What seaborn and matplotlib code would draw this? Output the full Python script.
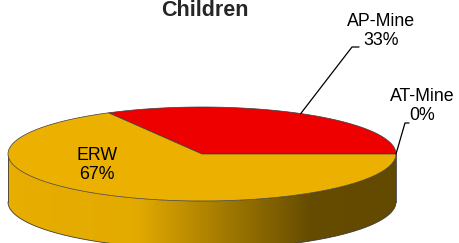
import numpy as np
import seaborn as sns
import matplotlib
matplotlib.use("Agg")
import matplotlib.pyplot as plt
from matplotlib.patches import Polygon
from matplotlib.colors import LinearSegmentedColormap, to_rgb

# -----------------------------
# data
# -----------------------------
categories = ["AP-Mine", "ERW", "AT-Mine"]
shares = [33, 67, 0]
slice_colors = ["#EE0000", "#EBB000", "#3366CC"]
title = "Children"

# label layout (pixel coords): text centre, elbow of leader line
label_pos = {"AP-Mine": (381, 31), "ERW": (97, 165), "AT-Mine": (422, 106)}
elbow_pos = {"AP-Mine": [(352, 47), (359, 47)], "AT-Mine": [(405, 123), (409, 123)]}

sns.set_theme(style="white")
plt.rcParams["font.family"] = ["Liberation Sans", "DejaVu Sans"]

fig = plt.figure(figsize=(4.59, 2.43), dpi=100)
ax = fig.add_axes([0, 0, 1, 1])
ax.set_xlim(0, 459)
ax.set_ylim(243, 0)
ax.axis("off")

# pie geometry
cx, cy, rx, ry, depth = 202, 154, 194, 47, 48
edge = "#3c3c3c"


def arc(a0, a1, dy=0, n=200):
    t = np.radians(np.linspace(a0, a1, n))
    return cx + rx * np.cos(t), cy + dy - ry * np.sin(t)


total = sum(shares)
bounds = np.concatenate([[0], np.cumsum(shares)]) / total * 360

# -----------------------------
# side wall (front half only)
# -----------------------------
for i, c in enumerate(slice_colors):
    lo, hi = max(bounds[i], 180), min(bounds[i + 1], 360)
    if hi <= lo:
        continue
    x1, y1 = arc(lo, hi)
    x2, y2 = arc(lo, hi, depth)
    pts = np.column_stack([np.concatenate([x1, x2[::-1]]), np.concatenate([y1, y2[::-1]])])
    poly = Polygon(pts, closed=True, facecolor="none", edgecolor="none")
    ax.add_patch(poly)
    base = np.array(to_rgb(c))
    cmap = LinearSegmentedColormap.from_list(
        "side", [(0, base * 0.985), (0.33, base * 0.965), (0.78, base * 0.43), (1, base * 0.42)]
    )
    grad = np.linspace(0, 1, 400).reshape(1, -1)
    im = ax.imshow(grad, cmap=cmap, aspect="auto",
                   extent=[cx - rx, cx + rx, cy + ry + depth + 2, cy - 2], zorder=1)
    im.set_clip_path(poly)
    ax.plot(x2, y2, color=edge, lw=0.6, zorder=2)
    ax.plot([x1[0], x2[0]], [y1[0], y2[0]], color=edge, lw=0.6, zorder=2)
    ax.plot([x1[-1], x2[-1]], [y1[-1], y2[-1]], color=edge, lw=0.6, zorder=2)

# -----------------------------
# top face
# -----------------------------
for i, c in enumerate(slice_colors):
    a0, a1 = bounds[i], bounds[i + 1]
    if a1 <= a0:
        continue
    x, y = arc(a0, a1)
    ax.fill(np.concatenate([[cx], x, [cx]]), np.concatenate([[cy], y, [cy]]),
            facecolor=c, edgecolor=edge, lw=0.5, zorder=3)

# -----------------------------
# labels
# -----------------------------
for i, name in enumerate(categories):
    pct = shares[i] / total * 100
    tx, ty = label_pos[name]
    ax.text(tx, ty, f"{name}\n{pct:.0f}%", ha="center", va="center",
            fontsize=12.8, color="black", linespacing=1.15, zorder=5)
    if name in elbow_pos:
        mid = (bounds[i] + bounds[i + 1]) / 2
        sx, sy = arc(mid, mid, n=1)
        px = [sx[0]] + [p[0] for p in elbow_pos[name]]
        py = [sy[0]] + [p[1] for p in elbow_pos[name]]
        ax.plot(px, py, color="black", lw=0.9, zorder=4)

ax.text(205, 10, title, ha="center", va="center", fontsize=15.5, fontweight="bold")

fig.savefig("out.png", dpi=100)
